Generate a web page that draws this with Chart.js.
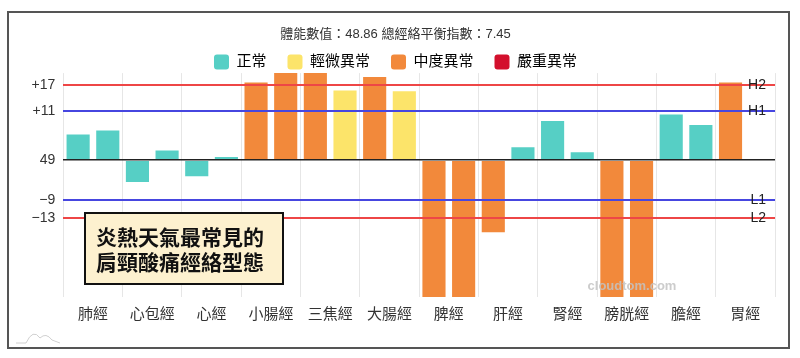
<!DOCTYPE html>
<html><head><meta charset="utf-8">
<script src="https://cdn.jsdelivr.net/npm/chart.js@4.4.1/dist/chart.umd.min.js"></script>
<style>html,body{margin:0;padding:0;background:#fff;overflow:hidden}</style>
</head><body>
<canvas id="c" width="800" height="358" style="width:800px;height:358px;display:block"></canvas>
<script>
const categories = ['肺經','心包經','心經','小腸經','三焦經','大腸經','脾經','肝經','腎經','膀胱經','膽經','胃經'];
const leftValues  = [5.8, -4.9, -3.6, 17.5, 20.5, 18.7, -32, -16.2, 8.8, -32, 10.3, 17.5];
const rightValues = [6.7,  2.2,  0.7, 20.5, 15.7, 15.5, -32,   2.9, 1.8, -32,  7.9, null];
const leftLevels  = [0, 0, 0, 2, 2, 2, 2, 2, 0, 2, 0, 2];
const rightLevels = [0, 0, 0, 2, 1, 1, 2, 0, 0, 2, 0, 0];
const levelNames  = ['正常','輕微異常','中度異常','嚴重異常'];
const levelColors = ['#56cfc5','#fce46a','#f2893b','#d3102d'];
const tickValues  = [17, 11, 0, -9, -13];
const tickLabels  = ['+17','+11','49','−9','−13'];
const rightTickLabels = ['H2','H1','','L1','L2'];
const titleText = '體能數值：48.86 總經絡平衡指數：7.45';
const noteLines = ['炎熱天氣最常見的','肩頸酸痛經絡型態'];
const watermark = 'cloudtom.com';
const yMin = -30.8, yMax = 19.6;

const FONT = "'Liberation Sans','Noto Sans CJK TC',sans-serif";
Chart.defaults.font.family = FONT;
Chart.defaults.color = '#333';

function lineColor(v){
  if (v === 17 || v === -13) return '#ee4646';
  if (v === 11 || v === -9) return '#4646e0';
  return '#222';
}

const decor = {
  id: 'decor',
  beforeInit(chart){
    const lg = chart.legend;
    if (lg) {
      const fit = lg.fit;
      lg.fit = function(){ fit.call(this); this.height -= 6.5; };
    }
  },
  afterDraw(chart){
    const ctx = chart.ctx;
    ctx.save();
    // frame
    ctx.strokeStyle = '#555';
    ctx.lineWidth = 2;
    ctx.strokeRect(8, 12, 781, 336);
    // note box
    ctx.fillStyle = '#fdf1cf';
    ctx.fillRect(85, 213, 198, 71);
    ctx.strokeStyle = '#111';
    ctx.lineWidth = 2;
    ctx.strokeRect(85, 213, 198, 71);
    ctx.fillStyle = '#111';
    ctx.font = "bold 21px 'Noto Sans CJK TC', sans-serif";
    ctx.textBaseline = 'middle';
    ctx.textAlign = 'left';
    ctx.fillText(noteLines[0], 96, 237);
    ctx.fillText(noteLines[1], 96, 262);
    // watermark
    ctx.fillStyle = 'rgba(195,195,195,0.85)';
    ctx.font = "bold 13px 'Liberation Sans', sans-serif";
    ctx.textAlign = 'center';
    ctx.fillText(watermark, 632, 286);
    // small logo
    ctx.strokeStyle = '#d0d0d0';
    ctx.lineWidth = 1;
    ctx.beginPath();
    ctx.moveTo(16, 343);
    ctx.lineTo(26, 343);
    ctx.quadraticCurveTo(33, 328, 40, 338);
    ctx.quadraticCurveTo(46, 332, 52, 340);
    ctx.lineTo(60, 343);
    ctx.stroke();
    ctx.restore();
  }
};

new Chart(document.getElementById('c'), {
  type: 'bar',
  data: {
    labels: categories,
    datasets: [
      { label: 'L', data: leftValues, yAxisID: 'y', backgroundColor: leftLevels.map(l => levelColors[l]), borderWidth: 0 },
      { label: 'R', data: rightValues, yAxisID: 'y', backgroundColor: rightLevels.map(l => levelColors[l]), borderWidth: 0 }
    ]
  },
  options: {
    responsive: false,
    animation: false,
    devicePixelRatio: 1,
    layout: { padding: { left: 16, right: 25, top: 0, bottom: 0 } },
    datasets: { bar: { categoryPercentage: 1.0, barPercentage: 0.78, clip: 0 } },
    plugins: {
      title: { display: true, text: titleText, color: '#333', font: { size: 13, weight: 'normal', family: FONT }, padding: { top: 27, bottom: -9 } },
      legend: {
        display: true,
        onClick: null,
        labels: {
          boxWidth: 15, boxHeight: 15, padding: 21, color: '#333',
          font: { size: 15, family: FONT },
          useBorderRadius: true, borderRadius: 3,
          generateLabels: () => levelNames.map((n, i) => ({ text: n, fillStyle: levelColors[i], strokeStyle: levelColors[i], lineWidth: 0, hidden: false, borderRadius: 3 }))
        }
      },
      tooltip: { enabled: false }
    },
    scales: {
      x: {
        grid: { color: '#e6e6e6', drawTicks: false, offset: true },
        border: { display: false },
        ticks: { color: '#333', font: { size: 15 }, padding: 9, maxRotation: 0, autoSkip: false },
        afterFit(s){ s.height = 61; }
      },
      y: {
        min: yMin, max: yMax,
        afterBuildTicks(s){ s.ticks = tickValues.map(v => ({ value: v })); },
        ticks: { callback: (v, i) => tickLabels[i], color: '#333', font: { size: 14 }, padding: 8, autoSkip: false },
        grid: { z: 1, drawTicks: false, color: c => lineColor(c.tick ? c.tick.value : 0), lineWidth: c => (c.tick && c.tick.value === 0) ? 1.5 : 2 },
        border: { display: false },
        afterFit(s){ s.width = 47.3; }
      },
      y2: {
        position: 'right',
        min: yMin, max: yMax,
        afterBuildTicks(s){ s.ticks = tickValues.map(v => ({ value: v })); },
        ticks: { mirror: true, padding: -9, callback: (v, i) => rightTickLabels[i], color: '#222', font: { size: 14 }, autoSkip: false, z: 2 },
        grid: { display: false },
        border: { display: false },
        afterFit(s){ s.width = 0; }
      }
    }
  },
  plugins: [decor]
});
</script>
</body></html>
